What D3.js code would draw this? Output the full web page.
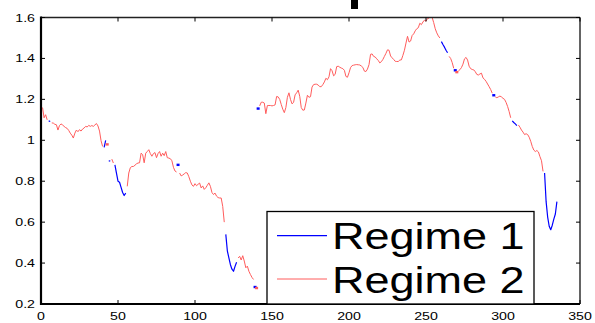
<!DOCTYPE html>
<html>
<head>
<meta charset="utf-8">
<script src="https://cdn.jsdelivr.net/npm/d3@7"></script>
<style>
  html, body { margin: 0; padding: 0; background: #fff; }
  svg { display: block; }
  text { font-family: Arial, "Liberation Sans", Helvetica, sans-serif; fill: #000; }
</style>
</head>
<body>
<svg id="chart" width="595" height="323"></svg>
<script>
// Series values, index 1..335
const values = [
  1.16, 1.11, 1.125, 1.10, 1.095, 1.092, 1.085, 1.084, 1.078, 1.076,
  1.05, 1.072, 1.08, 1.075, 1.068, 1.062, 1.058, 1.048, 1.035, 1.025,
  1.011, 1.035, 1.05, 1.042, 1.052, 1.045, 1.055, 1.06, 1.068, 1.065,
  1.073, 1.068, 1.072, 1.068, 1.075, 1.082, 1.07, 1.045, 0.998, 0.97,
  0.965, 1.0, 0.98, 0.898, 0.9, 0.908, 0.889, 0.88, 0.84, 0.80,
  0.795, 0.77, 0.745, 0.73, 0.742, 0.775, 0.84, 0.866, 0.872, 0.872,
  0.878, 0.885, 0.889, 0.89, 0.937, 0.93, 0.89, 0.937, 0.945, 0.954,
  0.935, 0.922, 0.935, 0.94, 0.915, 0.935, 0.945, 0.922, 0.937, 0.925,
  0.945, 0.915, 0.913, 0.91, 0.9, 0.868, 0.85, 0.845, 0.88, 0.84,
  0.826, 0.83, 0.836, 0.842, 0.84, 0.822, 0.8, 0.782, 0.775, 0.788,
  0.778, 0.785, 0.791, 0.767, 0.777, 0.76, 0.768, 0.78, 0.792, 0.775,
  0.745, 0.735, 0.742, 0.727, 0.72, 0.718, 0.718, 0.677, 0.6, 0.54,
  0.46, 0.425, 0.392, 0.37, 0.36, 0.384, 0.404, 0.425, 0.433, 0.415,
  0.436, 0.41, 0.377, 0.385, 0.36, 0.344, 0.33, 0.32, 0.283, 0.278,
  1.155, 1.168, 1.186, 1.186, 1.182, 1.13, 1.17, 1.17, 1.17, 1.168,
  1.17, 1.173, 1.214, 1.212, 1.2, 1.175, 1.152, 1.135, 1.16, 1.21,
  1.232, 1.2, 1.178, 1.185, 1.222, 1.232, 1.245, 1.215, 1.16, 1.147,
  1.148, 1.182, 1.22, 1.21, 1.213, 1.26, 1.272, 1.274, 1.274, 1.27,
  1.262, 1.262, 1.272, 1.285, 1.303, 1.296, 1.31, 1.35, 1.34, 1.315,
  1.322, 1.36, 1.362, 1.357, 1.353, 1.35, 1.342, 1.312, 1.308, 1.33,
  1.355, 1.365, 1.367, 1.369, 1.37, 1.369, 1.368, 1.363, 1.356, 1.338,
  1.336, 1.348, 1.37, 1.42, 1.422, 1.41, 1.407, 1.398, 1.39, 1.378,
  1.384, 1.395, 1.41, 1.425, 1.442, 1.44, 1.412, 1.403, 1.395, 1.386,
  1.385, 1.385, 1.392, 1.393, 1.415, 1.44, 1.475, 1.508, 1.48, 1.485,
  1.512, 1.52, 1.535, 1.545, 1.55, 1.572, 1.565, 1.578, 1.587, 1.582,
  1.595, 1.597, 1.61, 1.6, 1.575, 1.545, 1.525, 1.51, 1.5, 1.482,
  1.468, 1.455, 1.44, 1.428, 1.41, 1.40, 1.38, 1.352, 1.342, 1.333,
  1.338, 1.345, 1.355, 1.372, 1.398, 1.405, 1.392, 1.362, 1.35, 1.346,
  1.344, 1.335, 1.322, 1.319, 1.324, 1.328, 1.305, 1.298, 1.288, 1.275,
  1.262, 1.248, 1.23, 1.22, 1.212, 1.208, 1.212, 1.216, 1.212, 1.205,
  1.2, 1.185, 1.165, 1.14, 1.11, 1.095, 1.087, 1.08, 1.072, 1.075,
  1.064, 1.05, 1.04, 1.028, 1.032, 1.028, 1.015, 0.995, 0.97, 0.952,
  0.945, 0.95, 0.943, 0.92, 0.9, 0.848, 0.84, 0.70, 0.625, 0.58,
  0.563, 0.585, 0.615, 0.64, 0.70
];

// Regime runs: [regime, first index, last index]
const regimeRuns = [
  [2, 1, 4], [1, 5, 6], [2, 7, 40], [1, 41, 42], [2, 43, 43], [1, 44, 45],
  [2, 46, 47], [1, 48, 55], [2, 56, 88], [1, 89, 89], [2, 90, 119],
  [1, 120, 127], [2, 128, 138], [1, 139, 139], [2, 140, 140], [1, 141, 141],
  [2, 142, 259], [1, 260, 264], [2, 265, 268], [1, 269, 269], [2, 270, 270],
  [2, 271, 293], [1, 294, 294], [2, 295, 305], [1, 306, 309], [2, 310, 326],
  [1, 327, 335]
];

const seriesNames = ["Regime 1", "Regime 2"];
const seriesColors = ["#0000ff", "#ff5c5c"];

const xTicks = [0, 50, 100, 150, 200, 250, 300, 350];
const yTicks = [0.2, 0.4, 0.6, 0.8, 1.0, 1.2, 1.4, 1.6];
const yTickLabels = ["0.2", "0.4", "0.6", "0.8", "1", "1.2", "1.4", "1.6"];

const svg = d3.select("#chart");
const L = 41, R = 580, T = 17.5, B = 304;

const x = d3.scaleLinear().domain([0, 350]).range([L, R]);
const y = d3.scaleLinear().domain([0.2, 1.6]).range([B, T]);

svg.append("defs").append("clipPath").attr("id", "plotClip")
  .append("rect").attr("x", L).attr("y", T).attr("width", R - L).attr("height", B - T);

// fragment of the title above the axes
svg.append("rect").attr("x", 351).attr("y", 0).attr("width", 7).attr("height", 9).attr("fill", "#000");

const plot = svg.append("g").attr("clip-path", "url(#plotClip)");
const line = d3.line().x(d => x(d.i)).y(d => y(d.v));

// draw Regime 1 first, Regime 2 on top
[1, 2].forEach(reg => {
  const g = plot.append("g");
  regimeRuns.filter(r => r[0] === reg).forEach(([, a, b]) => {
    const pts = d3.range(a, b + 1).map(i => ({ i, v: values[i - 1] }));
    if (pts.length > 1) {
      g.append("path").attr("d", line(pts))
        .attr("fill", "none").attr("stroke", seriesColors[reg - 1])
        .attr("stroke-width", reg === 1 ? 1.2 : 1)
        .attr("stroke-linejoin", "round");
    } else {
      g.append("rect")
        .attr("x", x(pts[0].i) - 1.5).attr("y", y(pts[0].v) - 1.2)
        .attr("width", 3).attr("height", 2.4)
        .attr("fill", seriesColors[reg - 1]);
    }
  });
});

// axes frame
const frame = svg.append("g");
frame.append("line").attr("x1", L).attr("x2", R).attr("y1", T).attr("y2", T).attr("stroke", "#222").attr("stroke-width", 1.4);
frame.append("line").attr("x1", R).attr("x2", R).attr("y1", T).attr("y2", B).attr("stroke", "#222").attr("stroke-width", 1.4);
frame.append("line").attr("x1", L).attr("x2", R).attr("y1", B).attr("y2", B).attr("stroke", "#000").attr("stroke-width", 2);
frame.append("line").attr("x1", L).attr("x2", L).attr("y1", T - 1).attr("y2", B + 1).attr("stroke", "#000").attr("stroke-width", 2.2);

// inward ticks on all four sides
const tk = 4;
xTicks.forEach(t => {
  frame.append("line").attr("x1", x(t)).attr("x2", x(t)).attr("y1", B).attr("y2", B - tk).attr("stroke", "#000");
  frame.append("line").attr("x1", x(t)).attr("x2", x(t)).attr("y1", T).attr("y2", T + tk).attr("stroke", "#000");
});
yTicks.forEach(t => {
  frame.append("line").attr("x1", L).attr("x2", L + tk).attr("y1", y(t)).attr("y2", y(t)).attr("stroke", "#000");
  frame.append("line").attr("x1", R).attr("x2", R - tk).attr("y1", y(t)).attr("y2", y(t)).attr("stroke", "#000");
});

// tick labels (wide face)
const sx = 1.35;
xTicks.forEach(t => {
  frame.append("text").attr("transform", `translate(${x(t)},320) scale(${sx},1)`)
    .attr("text-anchor", "middle").attr("font-size", 10.5).text(t);
});
yTicks.forEach((t, k) => {
  frame.append("text").attr("transform", `translate(35,${y(t) + 4})scale(${sx},1)`)
    .attr("text-anchor", "end").attr("font-size", 10.5).text(yTickLabels[k]);
});

// legend
const lg = svg.append("g");
lg.append("rect").attr("x", 267).attr("y", 211.5).attr("width", 267).attr("height", B - 211.5)
  .attr("fill", "#fff").attr("stroke", "#000").attr("stroke-width", 1.3);
const legendRows = [235.7, 279];
seriesNames.forEach((name, k) => {
  lg.append("line").attr("x1", 277).attr("x2", 327).attr("y1", legendRows[k]).attr("y2", legendRows[k])
    .attr("stroke", seriesColors[k]).attr("stroke-width", k === 0 ? 1.2 : 1);
  lg.append("text").attr("transform", `translate(332,${legendRows[k] + 13.5}) scale(1.2,1)`)
    .attr("font-size", 37.5).text(name);
});
</script>
</body>
</html>
